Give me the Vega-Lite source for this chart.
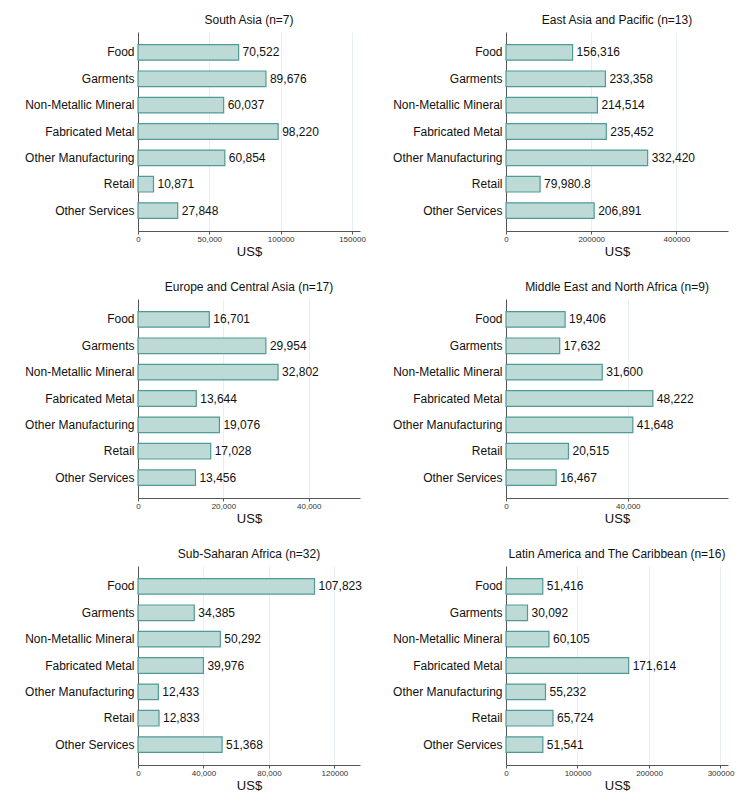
{
  "$schema": "https://vega.github.io/schema/vega-lite/v6.json",
  "background": "white",
  "padding": {"left": 24, "top": 14, "right": 5, "bottom": 5},
  "datasets": {
    "inv": [
      {"region": "South Asia", "sector": "Food", "value": 70522},
      {"region": "South Asia", "sector": "Garments", "value": 89676},
      {"region": "South Asia", "sector": "Non-Metallic Mineral", "value": 60037},
      {"region": "South Asia", "sector": "Fabricated Metal", "value": 98220},
      {"region": "South Asia", "sector": "Other Manufacturing", "value": 60854},
      {"region": "South Asia", "sector": "Retail", "value": 10871},
      {"region": "South Asia", "sector": "Other Services", "value": 27848},
      {"region": "East Asia", "sector": "Food", "value": 156316},
      {"region": "East Asia", "sector": "Garments", "value": 233358},
      {"region": "East Asia", "sector": "Non-Metallic Mineral", "value": 214514},
      {"region": "East Asia", "sector": "Fabricated Metal", "value": 235452},
      {"region": "East Asia", "sector": "Other Manufacturing", "value": 332420},
      {"region": "East Asia", "sector": "Retail", "value": 79980.8},
      {"region": "East Asia", "sector": "Other Services", "value": 206891},
      {"region": "Europe", "sector": "Food", "value": 16701},
      {"region": "Europe", "sector": "Garments", "value": 29954},
      {"region": "Europe", "sector": "Non-Metallic Mineral", "value": 32802},
      {"region": "Europe", "sector": "Fabricated Metal", "value": 13644},
      {"region": "Europe", "sector": "Other Manufacturing", "value": 19076},
      {"region": "Europe", "sector": "Retail", "value": 17028},
      {"region": "Europe", "sector": "Other Services", "value": 13456},
      {"region": "MENA", "sector": "Food", "value": 19406},
      {"region": "MENA", "sector": "Garments", "value": 17632},
      {"region": "MENA", "sector": "Non-Metallic Mineral", "value": 31600},
      {"region": "MENA", "sector": "Fabricated Metal", "value": 48222},
      {"region": "MENA", "sector": "Other Manufacturing", "value": 41648},
      {"region": "MENA", "sector": "Retail", "value": 20515},
      {"region": "MENA", "sector": "Other Services", "value": 16467},
      {"region": "SSA", "sector": "Food", "value": 107823},
      {"region": "SSA", "sector": "Garments", "value": 34385},
      {"region": "SSA", "sector": "Non-Metallic Mineral", "value": 50292},
      {"region": "SSA", "sector": "Fabricated Metal", "value": 39976},
      {"region": "SSA", "sector": "Other Manufacturing", "value": 12433},
      {"region": "SSA", "sector": "Retail", "value": 12833},
      {"region": "SSA", "sector": "Other Services", "value": 51368},
      {"region": "LAC", "sector": "Food", "value": 51416},
      {"region": "LAC", "sector": "Garments", "value": 30092},
      {"region": "LAC", "sector": "Non-Metallic Mineral", "value": 60105},
      {"region": "LAC", "sector": "Fabricated Metal", "value": 171614},
      {"region": "LAC", "sector": "Other Manufacturing", "value": 55232},
      {"region": "LAC", "sector": "Retail", "value": 65724},
      {"region": "LAC", "sector": "Other Services", "value": 51541}
    ]
  },
  "columns": 2,
  "bounds": "flush",
  "spacing": {"row": 68, "column": 146},
  "concat": [
    {
      "title": "South Asia (n=7)",
      "width": 222, "height": 199,
      "data": {"name": "inv"},
      "transform": [{"filter": "datum.region === 'South Asia'"}],
      "encoding": {
        "y": {"field": "sector", "type": "nominal", "title": null, "sort": ["Food", "Garments", "Non-Metallic Mineral", "Fabricated Metal", "Other Manufacturing", "Retail", "Other Services"]},
        "x": {"field": "value", "type": "quantitative", "title": "US$", "scale": {"domain": [0, 155600], "nice": false}, "axis": {"values": [0, 50000, 100000, 150000]}}
      },
      "layer": [
        {"mark": "bar"},
        {"mark": {"type": "text", "align": "left", "baseline": "middle", "dx": 4}, "encoding": {"text": {"field": "value", "format": ",.1~f"}}}
      ]
    },
    {
      "title": "East Asia and Pacific (n=13)",
      "width": 222, "height": 199,
      "data": {"name": "inv"},
      "transform": [{"filter": "datum.region === 'East Asia'"}],
      "encoding": {
        "y": {"field": "sector", "type": "nominal", "title": null, "sort": ["Food", "Garments", "Non-Metallic Mineral", "Fabricated Metal", "Other Manufacturing", "Retail", "Other Services"]},
        "x": {"field": "value", "type": "quantitative", "title": "US$", "scale": {"domain": [0, 521000], "nice": false}, "axis": {"values": [0, 200000, 400000]}}
      },
      "layer": [
        {"mark": "bar"},
        {"mark": {"type": "text", "align": "left", "baseline": "middle", "dx": 4}, "encoding": {"text": {"field": "value", "format": ",.1~f"}}}
      ]
    },
    {
      "title": "Europe and Central Asia (n=17)",
      "width": 222, "height": 199,
      "data": {"name": "inv"},
      "transform": [{"filter": "datum.region === 'Europe'"}],
      "encoding": {
        "y": {"field": "sector", "type": "nominal", "title": null, "sort": ["Food", "Garments", "Non-Metallic Mineral", "Fabricated Metal", "Other Manufacturing", "Retail", "Other Services"]},
        "x": {"field": "value", "type": "quantitative", "title": "US$", "scale": {"domain": [0, 52000], "nice": false}, "axis": {"values": [0, 20000, 40000]}}
      },
      "layer": [
        {"mark": "bar"},
        {"mark": {"type": "text", "align": "left", "baseline": "middle", "dx": 4}, "encoding": {"text": {"field": "value", "format": ",.1~f"}}}
      ]
    },
    {
      "title": "Middle East and North Africa (n=9)",
      "width": 222, "height": 199,
      "data": {"name": "inv"},
      "transform": [{"filter": "datum.region === 'MENA'"}],
      "encoding": {
        "y": {"field": "sector", "type": "nominal", "title": null, "sort": ["Food", "Garments", "Non-Metallic Mineral", "Fabricated Metal", "Other Manufacturing", "Retail", "Other Services"]},
        "x": {"field": "value", "type": "quantitative", "title": "US$", "scale": {"domain": [0, 72900], "nice": false}, "axis": {"values": [0, 40000]}}
      },
      "layer": [
        {"mark": "bar"},
        {"mark": {"type": "text", "align": "left", "baseline": "middle", "dx": 4}, "encoding": {"text": {"field": "value", "format": ",.1~f"}}}
      ]
    },
    {
      "title": "Sub-Saharan Africa (n=32)",
      "width": 222, "height": 199,
      "data": {"name": "inv"},
      "transform": [{"filter": "datum.region === 'SSA'"}],
      "encoding": {
        "y": {"field": "sector", "type": "nominal", "title": null, "sort": ["Food", "Garments", "Non-Metallic Mineral", "Fabricated Metal", "Other Manufacturing", "Retail", "Other Services"]},
        "x": {"field": "value", "type": "quantitative", "title": "US$", "scale": {"domain": [0, 135600], "nice": false}, "axis": {"values": [0, 40000, 80000, 120000]}}
      },
      "layer": [
        {"mark": "bar"},
        {"mark": {"type": "text", "align": "left", "baseline": "middle", "dx": 4}, "encoding": {"text": {"field": "value", "format": ",.1~f"}}}
      ]
    },
    {
      "title": "Latin America and The Caribbean (n=16)",
      "width": 222, "height": 199,
      "data": {"name": "inv"},
      "transform": [{"filter": "datum.region === 'LAC'"}],
      "encoding": {
        "y": {"field": "sector", "type": "nominal", "title": null, "sort": ["Food", "Garments", "Non-Metallic Mineral", "Fabricated Metal", "Other Manufacturing", "Retail", "Other Services"]},
        "x": {"field": "value", "type": "quantitative", "title": "US$", "scale": {"domain": [0, 310500], "nice": false}, "axis": {"values": [0, 100000, 200000, 300000]}}
      },
      "layer": [
        {"mark": "bar"},
        {"mark": {"type": "text", "align": "left", "baseline": "middle", "dx": 4}, "encoding": {"text": {"field": "value", "format": ",.1~f"}}}
      ]
    }
  ],
  "config": {
    "font": "Liberation Sans",
    "view": {"stroke": null},
    "scale": {"bandPaddingInner": 0.41, "bandPaddingOuter": 0.48},
    "bar": {"fill": "#bddad7", "stroke": "#4f9b96", "strokeWidth": 1.2},
    "text": {"fontSize": 12, "color": "#111111"},
    "title": {"fontSize": 12, "fontWeight": "normal", "color": "#111111", "anchor": "middle", "frame": "group", "offset": 5},
    "axisY": {"domainColor": "#555555", "domainWidth": 1, "ticks": false, "labelPadding": 4, "labelFontSize": 12, "labelColor": "#111111", "grid": false, "labelLimit": 200},
    "axisX": {"domainColor": "#555555", "domainWidth": 1, "tickSize": 3, "tickColor": "#555555", "labelPadding": 1, "labelFontSize": 8, "labelColor": "#333333", "labelFlush": false, "labelExpr": "datum.value >= 100000 ? format(datum.value, 'd') : format(datum.value, ',')", "grid": true, "gridColor": "#e8eff2", "gridWidth": 1, "titleFontSize": 13, "titleFontWeight": "normal", "titleColor": "#111111", "titlePadding": 2}
  }
}
